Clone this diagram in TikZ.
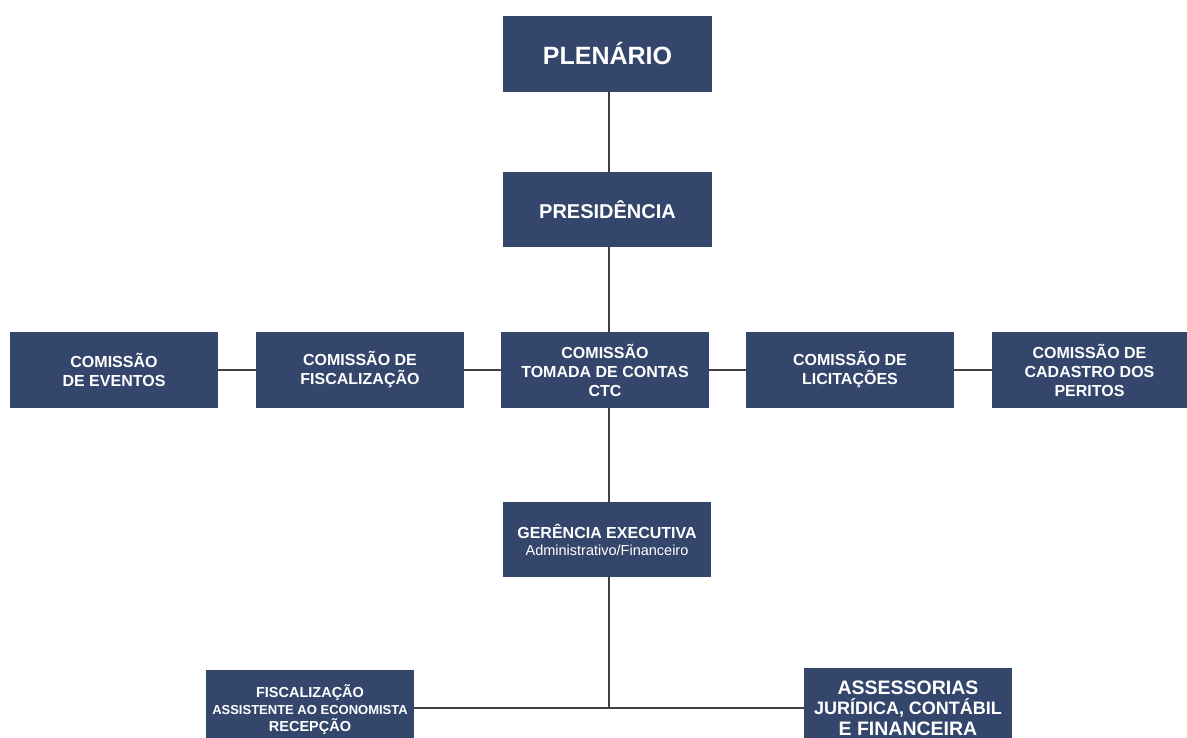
\documentclass[tikz,border=0pt]{standalone}
\usepackage{fontspec}
\setmainfont{Liberation Sans}
\definecolor{boxblue}{RGB}{52,70,108}
\definecolor{linegray}{RGB}{64,64,64}
\begin{document}
\begin{tikzpicture}[x=1pt,y=-1pt,
  box/.style={draw=none,fill=boxblue,text=white,align=center,inner sep=0pt,
    minimum width=208pt,minimum height=76pt,font=\bfseries\fontsize{16}{19}\selectfont},
  conn/.style={draw=linegray,line width=1.6pt}]
\useasboundingbox[fill=white] (0,0) rectangle (1187,738);
\clip (0,0) rectangle (1187,738);
\node[box,minimum width=209pt,font=\bfseries\fontsize{25}{28}\selectfont] (plen) at (607.5,54) {PLENÁRIO};
\node[box,minimum width=209pt,minimum height=75pt,font=\bfseries\fontsize{20}{22}\selectfont] (pres) at (607.5,209.5) {PRESIDÊNCIA};
\node[box] (ctc) at (605,370) {COMISSÃO\\TOMADA DE CONTAS\\CTC};
\node[box] (ev) at (114,370) {COMISSÃO\\DE EVENTOS};
\node[box] (fis) at (360,370) {COMISSÃO DE\\FISCALIZAÇÃO};
\node[box] (lic) at (850,370) {COMISSÃO DE\\LICITAÇÕES};
\node[box,minimum width=195pt] (per) at (1089.5,370) {COMISSÃO DE\\CADASTRO DOS\\PERITOS};
\node[box,minimum height=75pt] (ger) at (607,539.5) {GERÊNCIA EXECUTIVA\\[-2pt]{\mdseries\fontsize{14.5}{16}\selectfont Administrativo/Financeiro}};
\node[box,minimum height=80pt,font=\bfseries\fontsize{14.5}{17}\selectfont] (fisc) at (310,710) {FISCALIZAÇÃO\\{\fontsize{13}{17}\selectfont ASSISTENTE AO ECONOMISTA}\\RECEPÇÃO};
\node[box,minimum height=80pt,font=\bfseries\fontsize{19.5}{20.5}\selectfont] (ass) at (908,708) {ASSESSORIAS\\{\fontsize{18}{20.5}\selectfont JURÍDICA, CONTÁBIL}\\E FINANCEIRA};
\coordinate (j) at (609,708);
\draw[conn] (plen.south -| 609,0) -- (pres.north -| 609,0);
\draw[conn] (pres.south -| 609,0) -- (ctc.north -| 609,0);
\draw[conn] (ctc.south -| 609,0) -- (ger.north -| 609,0);
\draw[conn] (ev.east) -- (fis.west);
\draw[conn] (fis.east) -- (ctc.west);
\draw[conn] (ctc.east) -- (lic.west);
\draw[conn] (lic.east) -- (per.west);
\draw[conn] (ger.south -| j) -- (j);
\draw[conn] (fisc.east |- j) -- (ass.west |- j);
\end{tikzpicture}
\end{document}
